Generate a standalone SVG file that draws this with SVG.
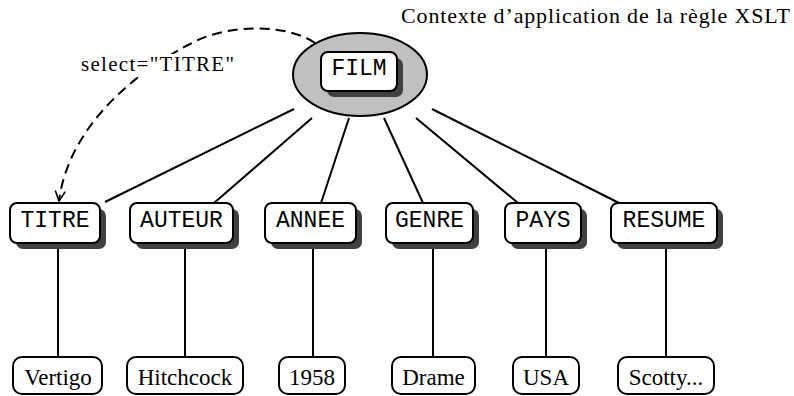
<svg xmlns="http://www.w3.org/2000/svg" width="794" height="396" viewBox="0 0 794 396">
<style>
.box{fill:#fff;stroke:#000;stroke-width:2}
.shadow{fill:#404040;stroke:none}
.mono{font-family:"Liberation Mono","Courier New",monospace;font-size:23px;text-anchor:middle;fill:#000}
.serif{font-family:"Liberation Serif","Times New Roman",serif;fill:#000}
.leaf{font-size:23px;text-anchor:middle}
.edge{stroke:#000;stroke-width:2;fill:none}
</style>
<defs>
<marker id="arrow" markerUnits="userSpaceOnUse" markerWidth="14" markerHeight="12" refX="11" refY="6" orient="auto" viewBox="0 0 14 12">
<path d="M1,1 L11,6 L1,11" fill="none" stroke="#000" stroke-width="1.6"/>
</marker>
</defs>
<rect width="794" height="396" fill="#fff"/>
<text class="serif" x="401" y="23" font-size="22" textLength="389" lengthAdjust="spacing">Contexte d’application de la règle XSLT</text>
<g id="connectors">
<line class="edge" x1="294" y1="109" x2="105" y2="202"/>
<line class="edge" x1="312" y1="118" x2="214" y2="203"/>
<line class="edge" x1="349" y1="118" x2="321" y2="203"/>
<line class="edge" x1="384" y1="118" x2="423" y2="203"/>
<line class="edge" x1="416" y1="118" x2="518" y2="203"/>
<line class="edge" x1="432" y1="109" x2="619" y2="203"/>
<line class="edge" x1="58" y1="249" x2="58" y2="357"/>
<line class="edge" x1="185" y1="249" x2="185" y2="357"/>
<line class="edge" x1="313" y1="249" x2="313" y2="357"/>
<line class="edge" x1="433" y1="249" x2="433" y2="357"/>
<line class="edge" x1="546" y1="249" x2="546" y2="357"/>
<line class="edge" x1="666" y1="249" x2="666" y2="357"/>
<path class="edge" d="M315,43 C290,25 230,22 190,44 C130,75 68,130 59,201" stroke-dasharray="10 6" marker-end="url(#arrow)"/>
<rect x="79" y="54" width="158" height="23" fill="#fff"/>
<text class="serif" x="81" y="71" font-size="21" textLength="153" lengthAdjust="spacing">select="TITRE"</text>
</g>
<g id="FILM">
<ellipse cx="360" cy="74.5" rx="67" ry="41.5" fill="#c0c0c0" stroke="#000" stroke-width="2"/>
<rect class="shadow" x="327" y="58" width="76" height="39" rx="7"/>
<rect class="box" x="321" y="52" width="76" height="39" rx="7"/>
<text class="mono" x="359" y="74.5">FILM</text>
</g>
<g id="TITRE">
<rect class="shadow" x="16" y="209" width="90" height="40" rx="7"/>
<rect class="box" x="10" y="203" width="90" height="40" rx="7"/>
<text class="mono" x="55" y="226.5">TITRE</text>
</g>
<g id="AUTEUR">
<rect class="shadow" x="136" y="209" width="103" height="40" rx="7"/>
<rect class="box" x="130" y="203" width="103" height="40" rx="7"/>
<text class="mono" x="181.5" y="226.5">AUTEUR</text>
</g>
<g id="ANNEE">
<rect class="shadow" x="271" y="209" width="91" height="40" rx="7"/>
<rect class="box" x="265" y="203" width="91" height="40" rx="7"/>
<text class="mono" x="310.5" y="226.5">ANNEE</text>
</g>
<g id="GENRE">
<rect class="shadow" x="392" y="209" width="87" height="40" rx="7"/>
<rect class="box" x="386" y="203" width="87" height="40" rx="7"/>
<text class="mono" x="429.5" y="226.5">GENRE</text>
</g>
<g id="PAYS">
<rect class="shadow" x="511" y="209" width="76" height="40" rx="7"/>
<rect class="box" x="505" y="203" width="76" height="40" rx="7"/>
<text class="mono" x="543" y="226.5">PAYS</text>
</g>
<g id="RESUME">
<rect class="shadow" x="617" y="209" width="106" height="40" rx="7"/>
<rect class="box" x="611" y="203" width="106" height="40" rx="7"/>
<text class="mono" x="664" y="226.5">RESUME</text>
</g>
<g id="Vertigo">
<rect class="box" x="13" y="357" width="89" height="37" rx="9"/>
<text class="serif leaf" x="58" y="385">Vertigo</text>
</g>
<g id="Hitchcock">
<rect class="box" x="127" y="357" width="116" height="37" rx="9"/>
<text class="serif leaf" x="185" y="385">Hitchcock</text>
</g>
<g id="v1958">
<rect class="box" x="279" y="357" width="66" height="37" rx="9"/>
<text class="serif leaf" x="312" y="385">1958</text>
</g>
<g id="Drame">
<rect class="box" x="392" y="357" width="83" height="37" rx="9"/>
<text class="serif leaf" x="433.5" y="385">Drame</text>
</g>
<g id="USA">
<rect class="box" x="513" y="357" width="66" height="37" rx="9"/>
<text class="serif leaf" x="546" y="385">USA</text>
</g>
<g id="Scotty">
<rect class="box" x="618" y="357" width="96" height="37" rx="9"/>
<text class="serif leaf" x="666" y="385">Scotty...</text>
</g>
</svg>
